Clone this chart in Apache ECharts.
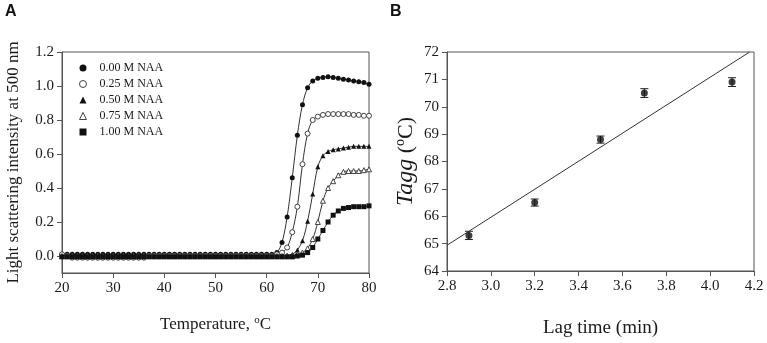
<!DOCTYPE html>
<html>
<head>
<meta charset="utf-8">
<script src="https://cdn.jsdelivr.net/npm/echarts@6/dist/echarts.min.js"></script>
<style>
html, body { margin: 0; padding: 0; background: #fff; }
#chart { width: 767px; height: 343px; }
</style>
</head>
<body>
<div id="chart"></div>
<script>
// panel A: light scattering vs temperature
const temperature = [
  20, 21, 22, 23, 24, 25, 26, 27, 28, 29,
  30, 31, 32, 33, 34, 35, 36, 37, 38, 39,
  40, 41, 42, 43, 44, 45, 46, 47, 48, 49,
  50, 51, 52, 53, 54, 55, 56, 57, 58, 59,
  60, 61, 62, 63, 64, 65, 66, 67, 68, 69,
  70, 71, 72, 73, 74, 75, 76, 77, 78, 79, 80
]
const naa000 = [
  0.01, 0.01, 0.01, 0.01, 0.01, 0.01, 0.01, 0.01, 0.01, 0.01,
  0.01, 0.01, 0.01, 0.01, 0.01, 0.01, 0.01, 0.01, 0.01, 0.01,
  0.01, 0.01, 0.01, 0.01, 0.01, 0.01, 0.01, 0.01, 0.01, 0.01,
  0.01, 0.01, 0.01, 0.01, 0.01, 0.01, 0.01, 0.01, 0.01, 0.01,
  0.01, 0.01, 0.02, 0.08, 0.23, 0.46, 0.71, 0.89, 0.99, 1.03,
  1.045, 1.05, 1.055, 1.05, 1.045, 1.04, 1.035, 1.03, 1.025, 1.02, 1.01
]
const naa025 = [
  0.01, 0, -0.01, -0.01, -0.01, -0.01, -0.01, -0.01, -0.01, -0.01,
  -0.01, -0.01, -0.01, -0.01, -0.01, -0.01, -0.01, 0, 0, 0,
  0, 0, 0, 0, 0, 0, 0, 0, 0, 0,
  0, 0, 0, 0, 0, 0, 0, 0, 0, 0,
  0, 0, 0.01, 0.02, 0.05, 0.14, 0.29, 0.54, 0.72, 0.80,
  0.82, 0.83, 0.835, 0.835, 0.835, 0.835, 0.835, 0.83, 0.83, 0.825, 0.825
]
const naa050 = [
  0, 0, 0, 0, 0, 0, 0, 0, 0, 0,
  0, 0, 0, 0, 0, 0, 0, 0, 0, 0,
  0, 0, 0, 0, 0, 0, 0, 0, 0, 0,
  0, 0, 0, 0, 0, 0, 0, 0, 0, 0,
  0, 0, 0, 0, 0.005, 0.01, 0.035, 0.09, 0.205, 0.365,
  0.525, 0.59, 0.615, 0.625, 0.63, 0.635, 0.64, 0.645, 0.645, 0.645, 0.645
]
const naa075 = [
  0, 0, 0, 0, 0, 0, 0, 0, 0, 0,
  0, 0, 0, 0, 0, 0, 0, 0, 0, 0,
  0, 0, 0, 0, 0, 0, 0, 0, 0, 0,
  0, 0, 0, 0, 0, 0, 0, 0, 0, 0,
  0, 0, 0, 0, 0, 0, 0.01, 0.02, 0.045, 0.10,
  0.20, 0.325, 0.40, 0.44, 0.475, 0.495, 0.50, 0.50, 0.50, 0.505, 0.51
]
const naa100 = [
  -0.005, -0.005, -0.005, -0.005, -0.005, -0.005, -0.005, -0.005, -0.005, -0.005,
  -0.005, -0.005, -0.005, -0.005, -0.005, -0.005, -0.005, -0.005, -0.005, -0.005,
  -0.005, -0.005, -0.005, -0.005, -0.005, -0.005, -0.005, -0.005, -0.005, -0.005,
  -0.005, -0.005, -0.005, -0.005, -0.005, -0.005, -0.005, -0.005, -0.005, -0.005,
  -0.005, -0.005, -0.005, -0.005, -0.005, -0.005, 0, 0.005, 0.02, 0.05,
  0.10, 0.15, 0.20, 0.24, 0.265, 0.28, 0.285, 0.29, 0.29, 0.29, 0.295
]
const seriesNames = ['0.00 M NAA', '0.25 M NAA', '0.50 M NAA', '0.75 M NAA', '1.00 M NAA']
const intensityTicks = [0, 0.2, 0.4, 0.6, 0.8, 1.0, 1.2]

// panel B: Tagg vs lag time
const lagTime = [2.9, 3.2, 3.5, 3.7, 4.1]
const tagg = [65.3, 66.5, 68.8, 70.5, 70.9]
const taggErr = [0.15, 0.13, 0.13, 0.16, 0.16]
const fitX = [2.8, 4.18]
const fitY = [64.94, 72]
const lagTicks = [2.8, 3.0, 3.2, 3.4, 3.6, 3.8, 4.0, 4.2]

const serif = "'Liberation Serif', 'Times New Roman', serif"
const ink = '#1a1a1a'
const frame = '#555'
const hollowStyle = { color: '#fff', borderColor: '#444', borderWidth: 1 }
const solidStyle = { color: '#111', borderColor: '#111', borderWidth: 0 }

function curve(name, values, symbol, size, hollow) {
  return {
    name: name,
    type: 'line',
    xAxisIndex: 0,
    yAxisIndex: 0,
    data: temperature.map((t, i) => [t, values[i]]),
    smooth: 0.35,
    symbol: symbol,
    symbolSize: size,
    showAllSymbol: true,
    lineStyle: { color: '#333', width: 1 },
    itemStyle: hollow ? hollowStyle : solidStyle
  }
}

function axisBase() {
  return {
    type: 'value',
    axisLine: { show: true, onZero: false, lineStyle: { color: frame, width: 1 } },
    axisTick: { show: true, length: 5, lineStyle: { color: frame } },
    axisLabel: { fontFamily: serif, fontSize: 15, color: ink },
    splitLine: { show: false },
    nameLocation: 'middle',
    nameTextStyle: { fontFamily: serif, color: ink }
  }
}

const supStyle = { fontFamily: serif, fontSize: 11, color: ink, verticalAlign: 'top', lineHeight: 11 }

const chart = echarts.init(document.getElementById('chart'))
chart.setOption({
  animation: false,
  backgroundColor: '#fff',
  graphic: [
    { type: 'text', left: 5, top: 4, style: { text: 'A', font: "bold 16px 'Liberation Sans', Arial, sans-serif", fill: '#111' } },
    { type: 'text', left: 390, top: 4, style: { text: 'B', font: "bold 16px 'Liberation Sans', Arial, sans-serif", fill: '#111' } }
  ],
  grid: [
    { left: 62, top: 52, width: 307, height: 221, show: true, borderColor: frame, borderWidth: 1 },
    { left: 447, top: 52, width: 307, height: 221, show: true, borderColor: frame, borderWidth: 1 }
  ],
  legend: {
    orient: 'vertical',
    left: 74,
    top: 57,
    itemWidth: 7,
    itemHeight: 7,
    itemGap: 4,
    symbolKeepAspect: true,
    textStyle: { fontFamily: serif, fontSize: 12, color: ink, padding: [0, 0, 0, 8] },
    data: [
      { name: seriesNames[0], icon: 'circle' },
      { name: seriesNames[1], icon: 'circle', itemStyle: { color: '#fff', borderColor: '#444', borderWidth: 1 } },
      { name: seriesNames[2], icon: 'triangle' },
      { name: seriesNames[3], icon: 'triangle', itemStyle: { color: '#fff', borderColor: '#444', borderWidth: 1 } },
      { name: seriesNames[4], icon: 'rect' }
    ]
  },
  xAxis: [
    Object.assign(axisBase(), {
      gridIndex: 0, min: 20, max: 80, interval: 10,
      name: 'Temperature, {sup|o}C', nameGap: 42,
      nameTextStyle: { fontFamily: serif, fontSize: 17, color: ink, lineHeight: 20, rich: { sup: supStyle } }
    }),
    Object.assign(axisBase(), {
      gridIndex: 1, min: 2.8, max: 4.2,
      axisTick: { show: true, length: 5, lineStyle: { color: frame }, customValues: lagTicks },
      axisLabel: { fontFamily: serif, fontSize: 15, color: ink, customValues: lagTicks, formatter: v => v.toFixed(1) },
      name: 'Lag time (min)', nameGap: 48,
      nameTextStyle: { fontFamily: serif, fontSize: 19, color: ink }
    })
  ],
  yAxis: [
    Object.assign(axisBase(), {
      gridIndex: 0, min: -0.1, max: 1.2,
      axisTick: { show: true, length: 5, lineStyle: { color: frame }, customValues: intensityTicks },
      axisLabel: { fontFamily: serif, fontSize: 15, color: ink, customValues: intensityTicks, formatter: v => v.toFixed(1) },
      name: 'Light scattering intensity at 500 nm', nameGap: 40,
      nameTextStyle: { fontFamily: serif, fontSize: 17, color: ink }
    }),
    Object.assign(axisBase(), {
      gridIndex: 1, min: 64, max: 72, interval: 1,
      name: '{it|Tagg} ({sup|o}C)', nameGap: 28,
      nameTextStyle: {
        fontFamily: serif, fontSize: 22, color: ink, lineHeight: 26,
        rich: {
          it: { fontFamily: serif, fontSize: 24, fontStyle: 'italic', color: ink, lineHeight: 26 },
          sup: { fontFamily: serif, fontSize: 14, color: ink, verticalAlign: 'top', lineHeight: 14 }
        }
      }
    })
  ],
  series: [
    curve(seriesNames[0], naa000, 'circle', 5, false),
    curve(seriesNames[1], naa025, 'circle', 5, true),
    curve(seriesNames[2], naa050, 'triangle', 5, false),
    curve(seriesNames[3], naa075, 'triangle', 5, true),
    curve(seriesNames[4], naa100, 'rect', 5, false),
    {
      type: 'line',
      xAxisIndex: 1,
      yAxisIndex: 1,
      data: fitX.map((x, i) => [x, fitY[i]]),
      symbol: 'none',
      lineStyle: { color: '#333', width: 1 }
    },
    {
      type: 'custom',
      xAxisIndex: 1,
      yAxisIndex: 1,
      data: lagTime.map((x, i) => [x, tagg[i] - taggErr[i], tagg[i] + taggErr[i]]),
      encode: { x: 0, y: [1, 2] },
      renderItem: function (params, api) {
        const lo = api.coord([api.value(0), api.value(1)])
        const hi = api.coord([api.value(0), api.value(2)])
        const w = 4
        const st = { stroke: '#222', lineWidth: 1 }
        return {
          type: 'group',
          children: [
            { type: 'line', shape: { x1: lo[0], y1: lo[1], x2: hi[0], y2: hi[1] }, style: st },
            { type: 'line', shape: { x1: lo[0] - w, y1: lo[1], x2: lo[0] + w, y2: lo[1] }, style: st },
            { type: 'line', shape: { x1: hi[0] - w, y1: hi[1], x2: hi[0] + w, y2: hi[1] }, style: st }
          ]
        }
      }
    },
    {
      type: 'scatter',
      xAxisIndex: 1,
      yAxisIndex: 1,
      data: lagTime.map((x, i) => [x, tagg[i]]),
      symbol: 'circle',
      symbolSize: 7,
      itemStyle: { color: '#111' },
      z: 5
    }
  ]
})
</script>
</body>
</html>
